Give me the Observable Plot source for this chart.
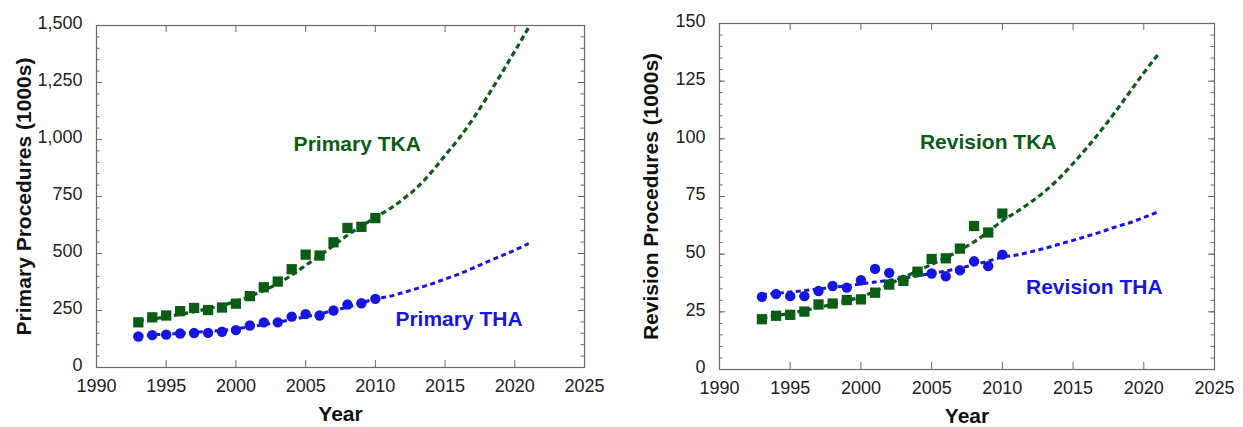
<!DOCTYPE html>
<html>
<head>
<meta charset="utf-8">
<script src="https://cdn.jsdelivr.net/npm/d3@7"></script>
<script src="https://cdn.jsdelivr.net/npm/@observablehq/plot@0.6"></script>
<style>
  html, body { margin: 0; padding: 0; background: #fff; }
  #wrap { display: flex; width: 1243px; height: 427px; }
  #wrap svg { display: block; }
</style>
</head>
<body>
<div id="wrap"></div>
<script>
// Observed years (markers) and fitted/projected years (dashed curves)
const years = [1993, 1994, 1995, 1996, 1997, 1998, 1999, 2000, 2001, 2002, 2003, 2004, 2005, 2006, 2007, 2008, 2009, 2010];
const projYears = [1993, 1994, 1995, 1996, 1997, 1998, 1999, 2000, 2001, 2002, 2003, 2004, 2005, 2006, 2007, 2008, 2009, 2010,
                   2011, 2012, 2013, 2014, 2015, 2016, 2017, 2018, 2019, 2020, 2021];

// Primary procedures (1000s)
const primaryTKA = [198, 220, 228, 247, 261, 252, 263, 280, 313, 352, 377, 431, 495, 491, 549, 612, 617, 655];
const primaryTHA = [136, 142, 144, 149, 151, 152, 157, 164, 184, 198, 198, 223, 234, 228, 250, 276, 282, 301];
const primaryTKAProj = [205, 213, 222, 233, 245, 258, 272, 290, 312, 338, 368, 405, 448, 490, 535, 580, 620, 658,
                        695, 739, 790, 855, 930, 1005, 1090, 1185, 1285, 1387, 1492];
const primaryTHAProj = [140, 143, 146, 150, 154, 158, 163, 170, 178, 188, 198, 210, 222, 235, 250, 265, 283, 301,
                        312, 329, 347, 366, 388, 410, 436, 463, 489, 515, 544];

// Revision procedures (1000s)
const revisionTKA = [21.8, 23.3, 23.7, 25.1, 28.2, 28.6, 30.1, 30.4, 33.3, 36.8, 38.4, 42.4, 47.9, 48.2, 52.4, 62.2, 59.4, 67.6];
const revisionTHA = [31.5, 32.7, 31.8, 31.8, 34.0, 36.2, 35.5, 38.7, 43.6, 41.9, 38.8, 42.2, 41.6, 40.4, 43.0, 46.9, 44.8, 49.8];
const revisionTKAProj = [22.3, 23.3, 24.4, 25.6, 26.9, 28.3, 29.8, 31.6, 33.9, 37.0, 39.9, 42.7, 45.6, 48.5, 51.7, 55.3, 59.7, 64.5,
                         68.3, 72.5, 77.2, 82.8, 89.3, 96.3, 103.8, 111.8, 120.2, 128.6, 136.5];
const revisionTHAProj = [32.5, 33.0, 33.6, 34.2, 34.9, 35.6, 36.3, 37.1, 37.9, 38.7, 39.6, 40.6, 41.6, 42.7, 44.0, 45.4, 47.0, 48.7,
                         49.6, 51.0, 52.5, 54.3, 56.0, 57.8, 59.7, 61.8, 63.6, 65.9, 68.3];

// Axis tick values
const xTicks = [1990, 1995, 2000, 2005, 2010, 2015, 2020, 2025];
const primaryMajor = [0, 250, 500, 750, 1000, 1250, 1500];
const primaryMinor = d3.range(0, 1501, 50);
const revisionMajor = [0, 25, 50, 75, 100, 125, 150];
const revisionMinor = d3.range(0, 151, 5);

const GREEN = "#0b5c14";
const BLUE = "#1616e0";
const FRAME = "#6a6a6a";
const FONT = "'Liberation Sans', Arial, Helvetica, sans-serif";

const toRows = (xs, vs) => xs.map((year, i) => ({year, value: vs[i]}));

function panel(cfg) {
  const {width, height, margin, yMax, major, minor, yTitle, titleDx,
         tka, tha, tkaProj, thaProj, tkaLabel, thaLabel} = cfg;
  const innerW = width - margin.left - margin.right;
  const innerH = height - margin.top - margin.bottom;
  return Plot.plot({
    width, height,
    marginLeft: margin.left, marginRight: margin.right,
    marginTop: margin.top, marginBottom: margin.bottom,
    style: {fontFamily: FONT, fontSize: "18px", color: "#222", background: "#fff", overflow: "visible"},
    x: {domain: [1990, 2025]},
    y: {domain: [0, yMax]},
    marks: [
      // inward ticks on all four sides
      Plot.tickY(minor, {y: d => d, stroke: FRAME, insetRight: innerW - 3.5}),
      Plot.tickY(minor, {y: d => d, stroke: FRAME, insetLeft: innerW - 3.5}),
      Plot.tickY(major, {y: d => d, stroke: FRAME, insetRight: innerW - 6}),
      Plot.tickY(major, {y: d => d, stroke: FRAME, insetLeft: innerW - 6}),
      Plot.tickX(xTicks, {x: d => d, stroke: FRAME, insetTop: innerH - 7}),
      Plot.tickX(xTicks, {x: d => d, stroke: FRAME, insetBottom: innerH - 7}),
      Plot.frame({stroke: FRAME, strokeWidth: 1.2}),
      Plot.axisY(major, {tickSize: 0, tickPadding: 14, tickFormat: d3.format(","), label: null, dy: -2, fill: "#222", fontSize: 18}),
      Plot.axisX(xTicks, {tickSize: 0, tickPadding: 12, tickFormat: d => String(d), label: null, fill: "#222", fontSize: 18}),
      // fitted / projected curves
      Plot.line(toRows(projYears, thaProj), {x: "year", y: "value", stroke: BLUE, strokeWidth: 3,
                strokeDasharray: "5,3.5", strokeLinecap: "butt", curve: "monotone-x"}),
      Plot.line(toRows(projYears, tkaProj), {x: "year", y: "value", stroke: GREEN, strokeWidth: 3.2,
                strokeDasharray: "5.5,3.5", strokeLinecap: "butt", curve: "monotone-x"}),
      // observed counts
      Plot.dot(toRows(years, tha), {x: "year", y: "value", symbol: "circle", r: 5.2, fill: BLUE, stroke: "none"}),
      Plot.dot(toRows(years, tka), {x: "year", y: "value", symbol: "square", r: 5.8, fill: GREEN, stroke: "none"}),
      // series labels
      Plot.text([tkaLabel.text], {x: tkaLabel.x, y: tkaLabel.y, text: d => d, fill: GREEN, fontSize: 21, fontWeight: "bold"}),
      Plot.text([thaLabel.text], {x: thaLabel.x, y: thaLabel.y, text: d => d, fill: BLUE, fontSize: 21, fontWeight: "bold"}),
      // axis titles
      Plot.text([yTitle], {frameAnchor: "left", text: d => d, rotate: -90, dx: titleDx, textAnchor: "middle", lineAnchor: "middle",
                           fontSize: 21, fontWeight: "bold", fill: "#111"}),
      Plot.text(["Year"], {frameAnchor: "bottom", text: d => d, dy: 47, textAnchor: "middle", lineAnchor: "middle",
                           fontSize: 21, fontWeight: "bold", fill: "#111"})
    ]
  });
}

const wrap = document.getElementById("wrap");

wrap.append(panel({
  width: 620, height: 427,
  margin: {left: 96, right: 36, top: 25, bottom: 60},
  yMax: 1500, major: primaryMajor, minor: primaryMinor,
  yTitle: "Primary Procedures (1000s)", titleDx: -72,
  tka: primaryTKA, tha: primaryTHA, tkaProj: primaryTKAProj, thaProj: primaryTHAProj,
  tkaLabel: {text: "Primary TKA", x: 2008.7, y: 980},
  thaLabel: {text: "Primary THA", x: 2016.0, y: 212}
}));

wrap.append(panel({
  width: 623, height: 427,
  margin: {left: 99, right: 29, top: 23, bottom: 58},
  yMax: 150, major: revisionMajor, minor: revisionMinor,
  yTitle: "Revision Procedures (1000s)", titleDx: -68,
  tka: revisionTKA, tha: revisionTHA, tkaProj: revisionTKAProj, thaProj: revisionTHAProj,
  tkaLabel: {text: "Revision TKA", x: 2009.0, y: 98.3},
  thaLabel: {text: "Revision THA", x: 2016.5, y: 35.7}
}));
</script>
</body>
</html>
